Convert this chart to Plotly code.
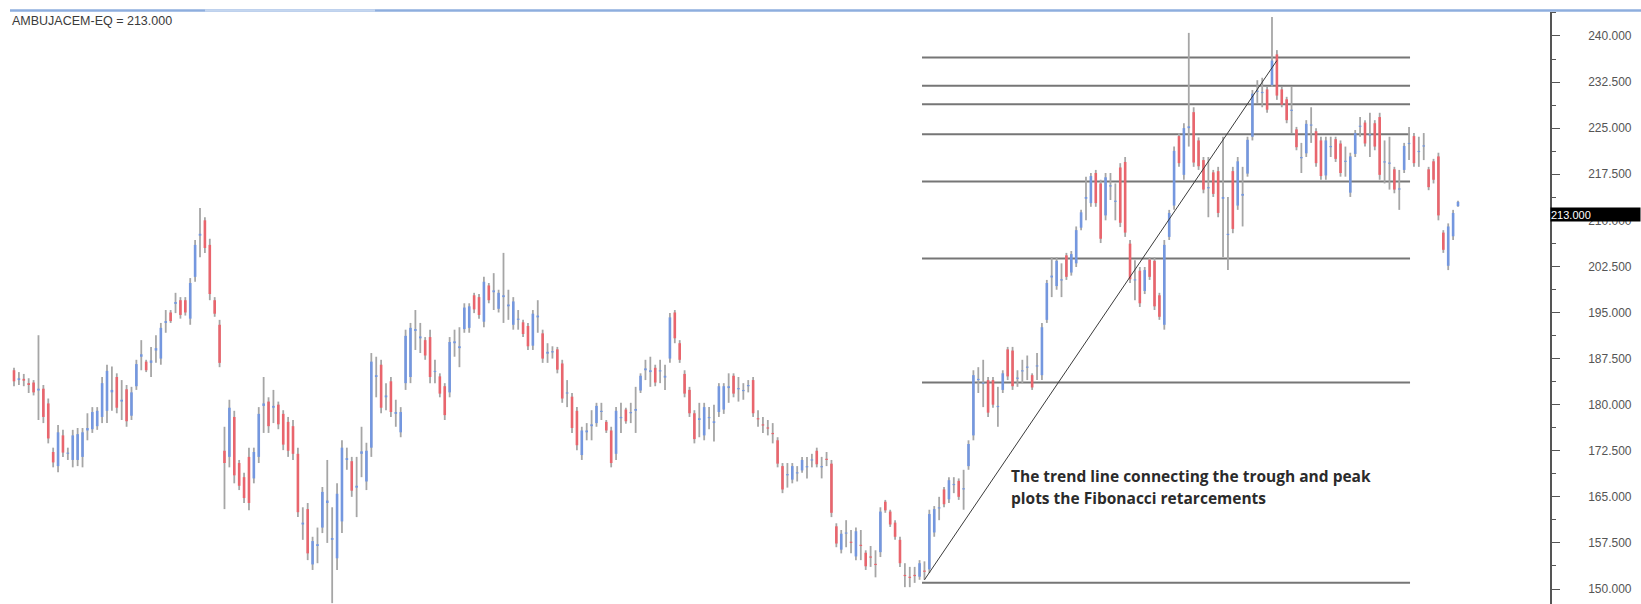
import plotly.graph_objects as go

symbol = "AMBUJACEM-EQ"

highs = [
    186.0,185.3,185.0,184.3,184.0,191.3,183.2,181.0,173.0,176.7,
    175.9,173.0,175.9,176.2,176.2,178.6,179.6,179.6,184.5,186.5,
    186.2,185.1,184.0,183.2,182.9,187.3,190.5,187.3,189.4,191.3,
    193.3,195.4,195.4,198.2,197.5,197.5,200.6,206.8,212.0,210.5,
    207.0,197.5,193.8,176.4,180.8,179.0,171.0,168.9,173.0,173.0,
    179.6,184.5,181.2,182.4,180.5,179.1,178.0,177.5,173.0,163.3,
    164.0,158.5,160.0,166.6,171.0,163.3,167.2,174.2,173.0,171.5,
    171.5,176.4,173.8,188.4,187.8,187.3,183.5,184.5,180.8,179.6,
    192.2,193.3,195.4,193.3,191.0,192.2,187.3,185.1,183.5,191.0,
    192.2,192.6,196.5,196.5,198.2,198.0,200.8,199.8,201.4,198.7,
    204.7,198.7,197.5,195.4,193.8,193.3,195.4,197.0,192.2,190.0,
    189.5,189.4,187.3,184.0,181.9,179.6,176.4,177.0,179.1,180.3,
    180.3,177.5,176.4,179.6,180.3,179.5,180.3,182.9,185.1,187.3,
    187.8,186.5,187.3,186.5,194.9,195.4,190.5,185.6,182.9,179.1,
    180.3,180.3,179.6,180.0,183.5,183.5,185.1,185.1,184.5,183.5,
    184.0,184.5,179.1,178.0,177.5,177.0,174.7,170.5,170.5,170.5,
    170.0,171.5,171.5,172.0,173.0,171.5,172.3,171.0,160.7,159.6,
    161.2,159.6,160.0,159.6,156.3,157.0,156.3,163.3,164.5,162.9,
    161.2,158.5,154.2,153.6,153.6,154.7,154.5,162.9,163.5,165.0,
    166.6,168.2,168.2,168.0,169.4,174.2,185.6,186.1,187.3,184.5,
    184.5,182.9,185.6,189.4,189.4,185.6,187.3,188.0,185.1,188.4,
    193.3,200.3,204.0,204.0,203.0,204.7,205.0,209.0,211.7,217.1,
    217.7,218.2,216.6,217.7,217.7,216.0,219.3,220.3,206.8,203.5,
    202.4,202.4,204.0,204.0,198.2,206.8,211.7,222.0,224.2,225.8,
    240.5,228.4,223.5,220.3,220.3,218.2,218.7,223.6,213.8,218.7,
    220.3,218.7,223.6,231.2,232.8,233.2,231.7,243.1,237.7,231.7,
    230.1,231.7,225.2,222.6,226.3,228.4,225.0,223.6,223.6,223.6,
    223.6,223.0,222.0,221.0,224.7,226.8,226.3,227.5,226.3,227.5,
    223.0,223.6,218.7,218.2,222.6,225.2,224.2,223.6,224.2,218.7,
    220.0,221.0,208.4,209.5,211.7,213.2,
]

lows = [
    183.0,183.2,183.0,181.9,181.5,177.5,177.0,173.7,169.8,169.0,
    171.5,171.0,169.8,170.0,169.8,174.2,175.4,175.9,177.0,177.0,
    179.0,178.6,177.5,176.4,177.5,182.4,185.6,185.3,184.5,186.8,
    186.5,191.7,193.3,194.9,194.0,194.5,193.0,200.0,204.0,204.7,
    197.0,194.3,186.1,163.0,169.8,167.2,166.1,164.0,162.8,167.2,
    170.5,175.4,175.4,177.0,176.0,172.6,171.5,171.0,161.7,158.0,
    154.7,153.1,154.2,159.1,157.5,147.7,153.1,159.1,169.4,165.0,
    161.7,168.2,166.1,171.5,181.2,178.6,179.1,178.0,176.4,174.7,
    182.4,183.5,188.9,188.4,187.3,183.5,183.5,181.2,177.5,181.2,
    187.8,186.1,191.7,191.7,194.9,194.0,192.6,196.5,195.4,195.0,
    193.3,193.8,192.2,192.2,191.0,188.9,188.9,191.7,186.8,186.8,
    187.5,185.1,180.3,179.6,175.4,172.6,171.0,174.2,174.2,176.4,
    177.5,175.4,169.8,171.0,175.4,176.9,177.0,175.4,181.9,184.0,
    182.9,183.0,183.5,182.4,186.8,190.0,186.8,181.2,178.0,173.7,
    174.7,174.2,176.0,174.0,178.0,178.5,180.3,181.2,180.5,180.8,
    182.0,178.0,176.4,175.4,175.0,173.7,169.8,165.6,166.5,167.2,
    167.5,168.9,168.0,169.8,169.8,168.0,170.0,161.7,156.8,155.8,
    156.8,155.8,154.7,154.7,153.1,153.6,151.9,155.2,162.4,160.1,
    158.0,153.6,150.3,150.3,151.0,151.5,151.5,152.6,158.5,161.2,
    163.3,164.0,165.6,164.5,162.9,169.4,174.2,181.9,179.6,178.0,
    179.5,176.4,181.9,184.0,182.4,182.9,183.5,184.0,182.4,184.0,
    184.0,193.3,197.5,198.7,197.5,200.3,201.0,202.4,208.4,210.0,
    212.2,212.2,206.3,210.0,213.3,210.0,208.9,207.3,199.8,197.0,
    195.9,198.0,200.3,195.4,193.8,192.2,206.8,211.7,218.7,216.6,
    222.0,218.7,218.2,214.4,210.5,213.8,210.5,204.0,201.9,207.9,
    211.7,209.0,217.1,223.0,229.1,228.4,227.5,231.7,229.6,228.4,
    225.8,224.2,221.4,217.7,220.3,222.6,218.7,216.6,216.6,220.3,
    219.5,217.1,217.1,213.8,220.3,223.6,222.0,220.3,221.4,216.6,
    216.0,215.0,214.4,211.7,217.7,219.8,218.7,218.7,219.8,214.9,
    216.0,210.0,204.7,201.9,206.8,212.2,
]

opens = [
    185.6,184.0,184.2,183.5,183.6,182.3,182.6,180.2,172.3,170.0,
    175.0,172.0,171.0,171.0,171.5,175.8,176.0,176.5,178.0,179.0,
    182.0,184.5,180.5,182.5,178.2,183.0,187.8,187.0,186.8,188.8,
    187.5,193.3,195.0,196.4,197.0,197.0,194.0,200.8,207.5,210.0,
    206.0,197.0,193.0,172.5,171.5,178.0,170.5,168.2,171.5,168.0,
    171.5,179.8,180.5,179.5,180.0,178.5,177.2,176.5,172.0,160.5,
    163.0,154.0,157.0,160.0,164.0,158.0,155.0,161.0,171.0,170.8,
    166.5,172.0,167.5,173.0,184.5,186.5,181.2,183.8,178.5,175.5,
    183.5,184.5,192.0,190.8,190.5,191.0,185.3,184.6,183.0,182.0,
    190.0,189.2,192.3,192.5,197.8,197.5,193.5,199.4,198.3,195.6,
    197.5,196.0,193.0,193.8,193.4,192.8,189.6,194.2,191.6,188.3,
    188.5,189.0,186.7,181.8,181.3,179.0,171.8,175.5,176.5,177.0,
    178.8,177.2,175.8,172.0,177.8,179.2,178.6,179.0,182.3,185.6,
    185.3,186.0,185.4,184.4,187.5,195.0,190.0,185.0,182.4,178.6,
    177.5,175.0,177.8,177.0,178.8,179.2,182.7,184.7,182.5,182.2,
    183.0,184.0,177.8,176.8,176.3,175.4,174.2,170.0,168.5,167.8,
    168.8,169.3,169.8,170.9,172.5,169.8,171.2,170.4,160.2,156.4,
    159.0,157.7,155.3,157.2,155.9,155.3,154.1,156.0,164.2,162.6,
    160.8,158.0,152.3,152.0,152.3,152.0,153.0,153.2,159.2,163.1,
    166.2,164.6,166.9,167.6,166.2,170.0,175.0,184.0,183.4,184.0,
    184.0,179.6,182.4,189.0,188.8,184.2,185.4,186.0,184.8,186.2,
    184.8,193.8,200.7,199.3,200.2,204.3,201.5,203.0,208.8,213.5,
    212.8,217.7,216.0,210.8,215.5,213.0,218.6,219.5,206.2,200.2,
    201.8,198.5,203.6,203.4,197.8,193.0,207.3,212.4,223.7,217.4,
    225.0,227.6,223.0,219.8,215.2,217.8,218.0,213.5,207.6,218.0,
    212.4,214.0,217.6,223.6,230.9,230.7,231.3,232.0,237.0,231.3,
    229.7,227.8,224.8,220.1,220.9,225.4,224.5,223.0,217.3,221.9,
    223.2,222.5,219.5,214.5,220.8,225.2,225.9,223.8,225.8,226.8,
    219.4,219.2,218.3,215.0,218.2,222.4,223.7,221.1,222.0,218.3,
    219.6,220.4,208.0,202.6,207.4,212.3,
]

closes = [
    183.8,184.3,183.9,183.2,182.0,182.6,178.0,174.5,170.6,175.5,
    172.2,172.2,175.0,175.2,175.5,176.2,178.8,179.0,183.5,185.5,
    182.4,179.5,180.8,177.3,182.0,186.6,188.2,185.6,187.2,189.2,
    192.5,193.6,193.6,196.7,194.6,195.0,199.8,206.0,207.8,205.5,
    198.0,194.8,186.8,170.5,179.5,168.5,166.8,164.8,164.0,172.3,
    178.5,180.2,176.5,179.8,176.8,173.5,172.5,172.0,162.5,160.8,
    155.8,157.8,157.3,165.8,164.4,158.3,165.5,173.0,171.3,166.0,
    166.8,172.4,172.5,187.0,184.8,179.5,181.5,178.8,178.8,178.8,
    191.2,192.5,192.3,191.1,188.0,184.5,185.5,181.8,178.3,190.2,
    190.3,189.5,195.8,196.0,195.5,194.6,200.0,197.0,198.6,198.2,
    197.8,196.3,196.8,194.0,191.5,189.5,194.8,194.5,187.5,188.6,
    188.7,185.7,181.0,182.0,176.2,173.4,175.8,175.8,176.8,179.8,
    179.0,175.8,170.5,179.0,178.0,177.3,178.8,179.3,184.7,185.9,
    185.6,183.6,185.6,184.7,194.2,190.8,187.3,181.8,178.6,174.4,
    177.8,179.6,178.0,177.3,183.0,183.0,183.0,181.8,182.7,182.4,
    183.2,178.6,177.6,176.6,176.1,175.2,170.4,166.2,168.7,170.0,
    169.0,171.0,170.0,171.1,170.3,170.0,171.0,162.4,157.4,159.0,
    159.2,157.5,159.4,157.0,153.7,155.1,153.9,162.6,162.8,160.5,
    158.5,154.2,152.1,151.8,152.1,154.2,152.8,162.2,163.0,163.3,
    163.8,167.7,167.1,165.0,166.4,173.6,184.8,184.2,183.6,178.7,
    180.0,179.8,185.1,184.6,183.0,184.4,185.6,186.2,182.8,186.4,
    192.6,199.8,201.0,203.4,200.4,200.8,204.5,208.4,211.3,213.8,
    217.2,212.8,207.0,217.0,215.7,213.2,209.6,208.0,200.4,200.4,
    196.5,201.9,200.8,196.0,194.3,206.0,211.2,221.3,219.3,225.0,
    225.3,219.4,218.8,215.0,215.4,214.3,211.2,213.8,207.8,208.6,
    219.6,214.3,223.1,230.6,231.1,230.9,228.0,236.0,230.3,228.8,
    226.3,228.0,221.9,220.3,225.7,225.6,219.3,217.2,223.0,222.1,
    220.0,217.7,219.7,220.4,224.2,225.4,222.5,224.0,222.0,217.4,
    219.6,219.4,215.0,215.2,222.1,222.6,219.3,221.3,222.2,215.4,
    216.6,210.8,205.2,209.0,211.2,213.0,
]

fib_levels = [236.5, 231.9, 228.9, 224.0, 216.3, 203.8, 183.6, 151.0]
fib_span = [185.5, 285.2]          # bar-index span of the retracement lines
trend_x = [186, 258]               # trough bar -> peak bar
trend_y = [151.5, 236.0]
y_tickvals = [150.0, 157.5, 165.0, 172.5, 180.0, 187.5, 195.0, 202.5, 210.0, 217.5, 225.0, 232.5, 240.0]
y_ticktext = ["150.000", "157.500", "165.000", "172.500", "180.000", "187.500", "195.000",
              "202.500", "210.000", "217.500", "225.000", "232.500", "240.000"]
note_lines = ["The trend line connecting the trough and peak", "plots the Fibonacci retarcements"]
note_x = 203.2
note_y = [168.4, 164.8]

# ---------------------------------------------------------------- styles
W, H = 1641, 604
ML, MR, MT, MB = 0, 91, 12, 0
PLOT_W = W - ML - MR
PLOT_H = H - MT - MB
UP, DOWN, WICK = "#7497df", "#e9656d", "#a6a6a6"

n = len(closes)
first_px, last_px = 14, 1458
px_per_bar = (last_px - first_px) / (n - 1)
x0 = -first_px / px_per_bar
x1 = x0 + PLOT_W / px_per_bar

wx, wy = [], []
ux, uy, dx, dy = [], [], [], []
for i in range(n):
    wx += [i, i, None]
    wy += [lows[i], highs[i], None]
    if closes[i] >= opens[i]:
        ux += [i, i, None]
        uy += [opens[i], closes[i], None]
    else:
        dx += [i, i, None]
        dy += [opens[i], closes[i], None]

fx, fy = [], []
for lv in fib_levels:
    fx += [fib_span[0], fib_span[1], None]
    fy += [lv, lv, None]

fig = go.Figure()
fig.add_trace(go.Scatter(x=fx, y=fy, mode="lines", line=dict(color="#767676", width=2),
                         hoverinfo="skip", showlegend=False))
fig.add_trace(go.Scatter(x=wx, y=wy, mode="lines", line=dict(color=WICK, width=1.8),
                         hoverinfo="skip", showlegend=False))
fig.add_trace(go.Scatter(x=ux, y=uy, mode="lines", line=dict(color=UP, width=2.6),
                         hoverinfo="skip", showlegend=False))
fig.add_trace(go.Scatter(x=dx, y=dy, mode="lines", line=dict(color=DOWN, width=2.6),
                         hoverinfo="skip", showlegend=False))
fig.add_trace(go.Scatter(x=trend_x, y=trend_y, mode="lines", line=dict(color="#3a3a3a", width=1),
                         hoverinfo="skip", showlegend=False))

last = closes[-1]
annotations = [
    dict(text=f"{symbol} = {last:.3f}", xref="paper", yref="paper",
         x=10 / PLOT_W, y=1 - 9 / PLOT_H, xanchor="left", yanchor="middle",
         showarrow=False, font=dict(family="Liberation Sans, Arial", size=12.5, color="#3a3a3a")),
    dict(text=f"{last:.3f}", xref="paper", yref="y", x=1, y=last, yshift=-13,
         xanchor="left", yanchor="middle", showarrow=False, align="left",
         width=89, height=13, bgcolor="#000000", borderpad=0,
         font=dict(family="Liberation Sans, Arial", size=11, color="#ffffff")),
]
for line, yy in zip(note_lines, note_y):
    annotations.append(dict(text=f"<b>{line}</b>", xref="x", yref="y", x=note_x, y=yy,
                            xanchor="left", yanchor="middle", showarrow=False,
                            font=dict(family="Open Sans", size=15.5, color="#2b2b2b")))

shapes = [
    dict(type="line", xref="paper", yref="paper", x0=10 / PLOT_W, x1=W / PLOT_W,
         y0=1 + 1.5 / PLOT_H, y1=1 + 1.5 / PLOT_H,
         line=dict(color="#8eaede", width=2.5)),
    dict(type="line", xref="paper", yref="paper", x0=205 / PLOT_W, x1=375 / PLOT_W,
         y0=1 + 1.5 / PLOT_H, y1=1 + 1.5 / PLOT_H,
         line=dict(color="#c4d6ef", width=2.5)),
]

fig.update_layout(
    width=W, height=H,
    margin=dict(l=ML, r=MR, t=MT, b=MB),
    paper_bgcolor="white", plot_bgcolor="white",
    showlegend=False,
    annotations=annotations,
    shapes=shapes,
    xaxis=dict(visible=False, range=[x0, x1], fixedrange=True),
    yaxis=dict(side="right", range=[147.56, 243.9], showgrid=False, zeroline=False,
               tickmode="array", tickvals=y_tickvals, ticktext=y_ticktext,
               ticks="outside", ticklen=8, tickwidth=1, tickcolor="#555555",
               showline=True, linecolor="#555555", linewidth=1.5,
               ticklabelstandoff=26,
               tickfont=dict(family="Liberation Sans, Arial", size=12, color="#555555"),
               minor=dict(ticks="outside", ticklen=4, tickcolor="#555555",
                          tickmode="linear", tick0=146.25, dtick=7.5)),
)

fig.write_html("out.html", config={"displayModeBar": False},
               post_script="document.body.style.margin='0';document.body.style.overflow='hidden';")
